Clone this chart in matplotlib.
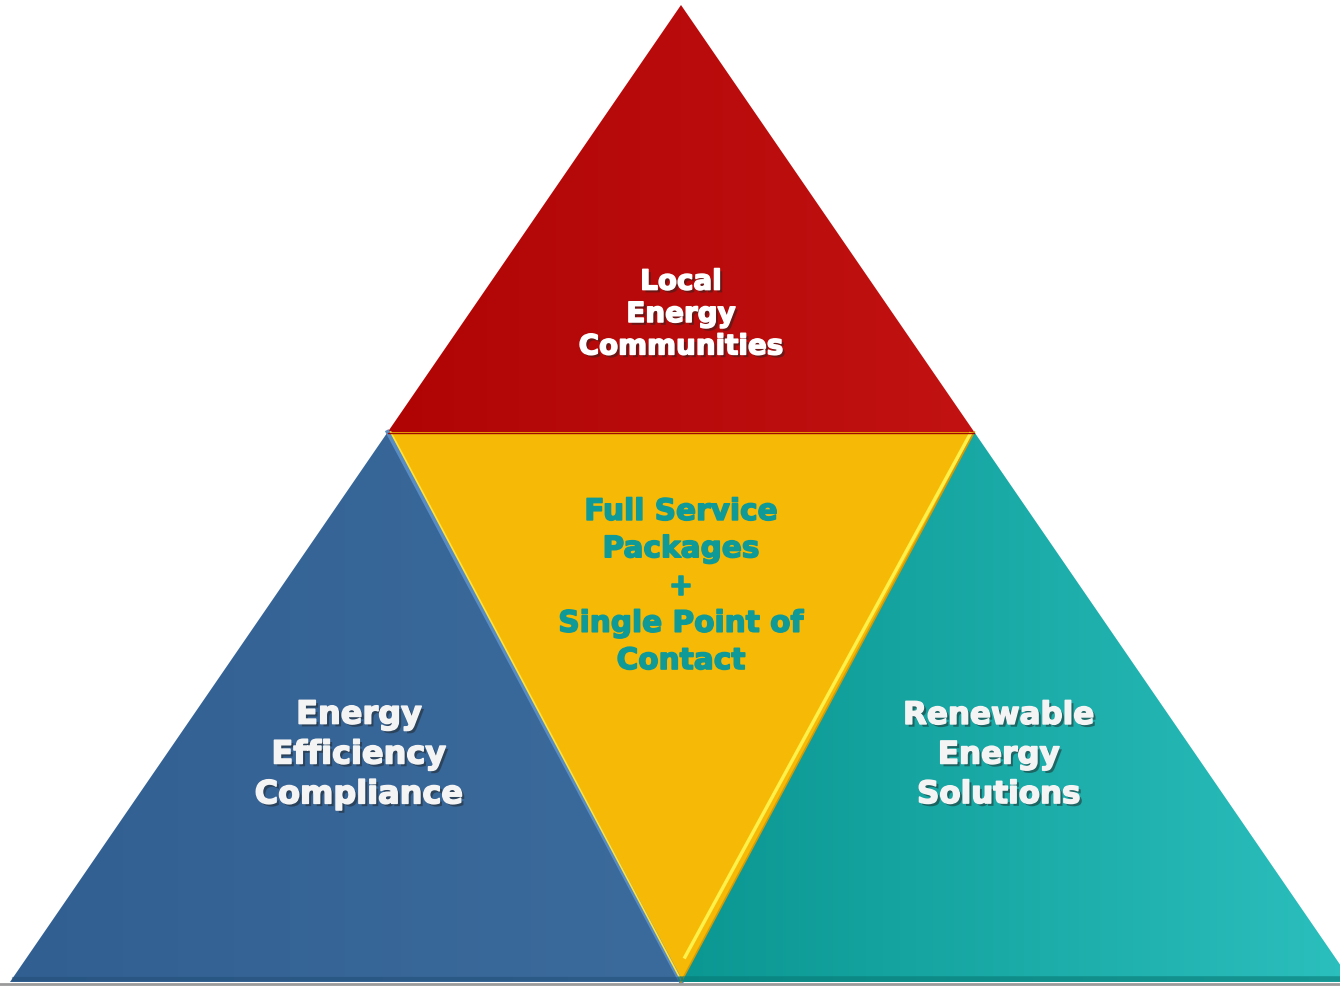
import numpy as np
import matplotlib.pyplot as plt
from matplotlib.patches import Polygon
from matplotlib import patheffects as pe

# picture geometry (pixels)
W, H = 1340, 987
apex = (681, 6)
base_y = 983
half_base = 671

# segment labels and colours
labels_outer = ["Local\nEnergy\nCommunities",
                "Energy\nEfficiency\nCompliance",
                "Renewable\nEnergy\nSolutions"]
label_center = "Full Service\nPackages\n+\nSingle Point of\nContact"
col_top = ("#b00404", "#c21212")
col_left = ("#325f92", "#3b6b9c")
col_right = ("#0b9792", "#2bbfbd")
col_center = "#f6b905"
col_center_text = "#0f9a98"

ax_x, ax_y = apex
mid_y = 433  # middle line of the pyramid
def x_at(y, side):
    return ax_x + side * half_base * (y - ax_y) / (base_y - ax_y)

A = (ax_x, ax_y)
L = (x_at(base_y, -1), base_y)
R = (x_at(base_y, 1), base_y)
ML = (x_at(mid_y, -1), mid_y)
MR = (x_at(mid_y, 1), mid_y)
MB = (ax_x, base_y)

fig = plt.figure(figsize=(W / 100, H / 100), dpi=100)
ax = fig.add_axes([0, 0, 1, 1])
ax.set_xlim(0, W)
ax.set_ylim(H, 0)
ax.axis("off")


def grad_poly(pts, c0, c1):
    poly = Polygon(pts, closed=True, facecolor="none", edgecolor="none")
    ax.add_patch(poly)
    xs = [p[0] for p in pts]
    ys = [p[1] for p in pts]
    a = np.array(plt.matplotlib.colors.to_rgb(c0))
    b = np.array(plt.matplotlib.colors.to_rgb(c1))
    t = np.linspace(0, 1, 256)
    img = np.repeat(a + (b - a) * t[None, :, None], 2, axis=0)
    im = ax.imshow(img, extent=(min(xs), max(xs), max(ys), min(ys)),
                   aspect="auto", zorder=1, interpolation="bilinear")
    im.set_clip_path(poly)


grad_poly([A, ML, MR], col_top[0], col_top[1])
grad_poly([ML, L, MB], col_left[0], col_left[1])
grad_poly([MR, MB, R], col_right[0], col_right[1])
ax.add_patch(Polygon([ML, MR, MB], closed=True, facecolor=col_center,
                     edgecolor="none", zorder=2))

# bevel highlights
ax.plot([ML[0], MB[0]], [ML[1], MB[1]], color="#5a8cc4", lw=3, zorder=3)
ax.plot([ML[0] + 3, MB[0]], [ML[1], MB[1] - 2], color="#ffe23a", lw=1.2, zorder=3)
ax.plot([MR[0] - 4, MB[0] + 4], [MR[1] + 2, MB[1] - 25], color="#fff04a", lw=2.5, zorder=3)
ax.plot([MR[0], MB[0]], [MR[1], MB[1]], color="#d99a00", lw=1.2, zorder=3)
ax.plot([ML[0], MR[0]], [ML[1] + 1, MR[1] + 1], color="#9e0a00", lw=1, zorder=3)
ax.plot([L[0] + 4, MB[0]], [base_y - 3, base_y - 3], color="#1d4a70", lw=3, alpha=0.45, zorder=3)
ax.plot([MB[0], R[0]], [base_y - 3, base_y - 3], color="#087a76", lw=4, alpha=0.6, zorder=3)
ax.plot([0, W], [base_y + 2, base_y + 2], color="#9a9a9a", lw=2, zorder=3)


def effects(c, shadow=True):
    fx = []
    if shadow:
        fx.append(pe.withSimplePatchShadow(offset=(2, -2), shadow_rgbFace="#222222", alpha=0.5))
    fx += [pe.Stroke(linewidth=1.1, foreground=c), pe.Normal()]
    return fx


font = dict(family="DejaVu Sans", weight="bold", ha="center", va="center", zorder=5)

ax.text(681, 315, labels_outer[0], color="white", fontsize=20,
        linespacing=1.2, path_effects=effects("white"), **font)
ax.text(359, 756, labels_outer[1], color="#f4f4f4", fontsize=23,
        linespacing=1.37, path_effects=effects("#f4f4f4"), **font)
ax.text(999, 756, labels_outer[2], color="#f4f4f4", fontsize=22.3,
        linespacing=1.46, path_effects=effects("#f4f4f4"), **font)
ax.text(681, 587, label_center, color=col_center_text, fontsize=21.3,
        linespacing=1.36, path_effects=effects(col_center_text, False), **font)

fig.savefig("out.png", dpi=100)
